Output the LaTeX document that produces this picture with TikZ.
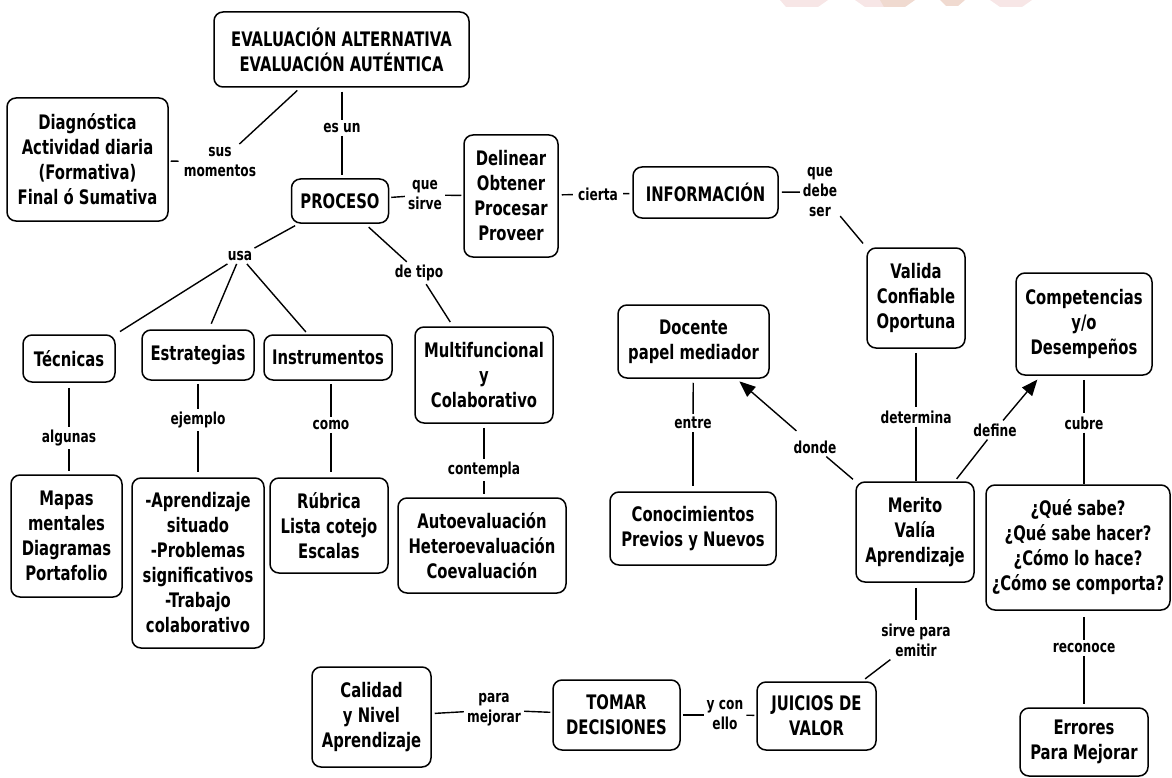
\documentclass[tikz,border=0pt]{standalone}
\usepackage{fontspec}
\setmainfont{DejaVu Sans}[FakeStretch=0.74]
\usetikzlibrary{arrows.meta}
\begin{document}
\begin{tikzpicture}[x=1pt,y=-1pt,
  box/.style={draw, line width=1.5pt, rounded corners=9pt, align=center,
    font=\bfseries\fontsize{20}{25}\selectfont, inner sep=0pt},
  lbl/.style={align=center, font=\bfseries\fontsize{16.5}{20}\selectfont, inner sep=3pt},
  con/.style={line width=1.4pt},
  arr/.style={con, -{Triangle[length=16pt,width=13pt]}},
  wm/.style={fill={rgb,255:red,247;green,230;blue,230}, draw=none},
  wm2/.style={fill={rgb,255:red,240;green,218;blue,208}, draw=none}
]
\useasboundingbox (0,0) rectangle (1172,778);
% faint watermark at the top edge
\fill[wm] (780,0) -- (828,0) -- (818,7) -- (786,7) -- cycle;
\fill[wm] (855,0) -- (885,0) -- (900,7) -- (865,7) -- cycle;
\fill[wm2] (880,0) -- (915,0) -- (905,7) -- (884,7) -- cycle;
\fill[wm2] (940,0) -- (965,0) -- (958,6) -- (946,6) -- cycle;
\fill[wm] (990,0) -- (1032,0) -- (1022,7) -- (1000,7) -- cycle;

% boxes
\node[box, minimum width=255pt, minimum height=75pt] (eval) at (341.5,49.5) {EVALUACIÓN ALTERNATIVA\\EVALUACIÓN AUTÉNTICA};
\node[box, minimum width=161pt, minimum height=123pt] (diag) at (87.5,159.5) {Diagnóstica\\Actividad diaria\\(Formativa)\\Final ó Sumativa};
\node[box, minimum width=97pt, minimum height=44pt] (proceso) at (340,201) {PROCESO};
\node[box, minimum width=94pt, minimum height=122pt] (delinear) at (511,196) {Delinear\\Obtener\\Procesar\\Proveer};
\node[box, minimum width=145pt, minimum height=51pt] (info) at (705.5,192.5) {INFORMACIÓN};
\node[box, minimum width=98pt, minimum height=100pt] (valida) at (916,298) {Valida\\Confiable\\Oportuna};
\node[box, minimum width=136pt, minimum height=102pt] (compet) at (1084,324) {Competencias\\y/o\\Desempeños};
\node[box, minimum width=151pt, minimum height=73pt] (docente) at (693.5,341.5) {Docente\\papel mediador};
\node[box, minimum width=92pt, minimum height=47pt] (tecnicas) at (69,358.5) {Técnicas};
\node[box, minimum width=112pt, minimum height=50pt] (estrat) at (198,355) {Estrategias};
\node[box, minimum width=128pt, minimum height=45pt] (instr) at (328,357.5) {Instrumentos};
\node[box, minimum width=138pt, minimum height=96pt] (multi) at (484,375) {Multifuncional\\y\\Colaborativo};
\node[box, minimum width=111pt, minimum height=122pt] (mapas) at (66.5,536) {Mapas\\mentales\\Diagramas\\Portafolio};
\node[box, minimum width=132pt, minimum height=170pt] (aprend) at (198,563) {-Aprendizaje\\situado\\-Problemas\\significativos\\-Trabajo\\colaborativo};
\node[box, minimum width=118pt, minimum height=95pt] (rubrica) at (329,525.5) {Rúbrica\\Lista cotejo\\Escalas};
\node[box, minimum width=168pt, minimum height=95pt] (auto) at (482,545.5) {Autoevaluación\\Heteroevaluación\\Coevaluación};
\node[box, minimum width=166pt, minimum height=73pt] (conoc) at (693,528.5) {Conocimientos\\Previos y Nuevos};
\node[box, minimum width=118pt, minimum height=100pt] (merito) at (915,532) {Merito\\Valía\\Aprendizaje};
\node[box, minimum width=184pt, minimum height=125pt] (que) at (1078,547.5) {¿Qué sabe?\\¿Qué sabe hacer?\\¿Cómo lo hace?\\¿Cómo se comporta?};
\node[box, minimum width=119pt, minimum height=100pt] (calidad) at (371.5,717) {Calidad\\y Nivel\\Aprendizaje};
\node[box, minimum width=127pt, minimum height=70pt] (tomar) at (616.5,715) {TOMAR\\DECISIONES};
\node[box, minimum width=119pt, minimum height=68pt] (juicios) at (816.5,716) {JUICIOS DE\\VALOR};
\node[box, minimum width=128pt, minimum height=68pt] (errores) at (1084,742) {Errores\\Para Mejorar};

% linking words
\node[lbl] (sus) at (220,162) {sus\\momentos};
\node[lbl] (esun) at (342,128) {es un};
\node[lbl] (quesirve) at (425,195) {que\\sirve};
\node[lbl] (cierta) at (598,194) {cierta};
\node[lbl] (quedebe) at (820,192) {que\\debe\\ser};
\node[lbl] (usa) at (240,256) {usa};
\node[lbl] (detipo) at (419,273) {de tipo};
\node[lbl] (algunas) at (69,438) {algunas};
\node[lbl] (ejemplo) at (198,420) {ejemplo};
\node[lbl] (como) at (331,425) {como};
\node[lbl] (contempla) at (484,470) {contempla};
\node[lbl] (entre) at (693,423) {entre};
\node[lbl] (donde) at (815,447) {donde};
\node[lbl] (determina) at (916,417) {determina};
\node[lbl] (define) at (995,430) {define};
\node[lbl] (cubre) at (1084,423) {cubre};
\node[lbl] (sirve) at (916,640) {sirve para\\emitir};
\node[lbl] (yconello) at (725,715) {y con\\ello};
\node[lbl] (paramejorar) at (494,710) {para\\mejorar};
\node[lbl] (reconoce) at (1084,648) {reconoce};

% connectors
\draw[con, shorten <=2pt, shorten >=2pt] (diag) -- (sus);
\draw[con, shorten >=4pt] (sus) -- (eval);
\draw[con, shorten <=4pt] (eval.south -| esun) -- (esun);
\draw[con, shorten >=3pt] (esun) -- (esun |- proceso.north);
\draw[con, shorten <=2pt] (proceso) -- (quesirve);
\draw[con, shorten >=2pt] (quesirve) -- (delinear);
\draw[con, shorten <=3pt, shorten >=2pt] (delinear) -- (cierta);
\draw[con, shorten <=2pt, shorten >=3pt] (cierta) -- (info);
\draw[con, shorten <=3pt] (info) -- (quedebe);
\draw[con, shorten >=5pt] (quedebe) -- (valida.north west);
\draw[con, shorten <=4pt] (proceso) -- (usa);
\draw[con, shorten >=5pt] (usa) -- (tecnicas.north east);
\draw[con, shorten >=6pt] (usa) -- (estrat);
\draw[con, shorten >=3pt] (usa) -- (instr);
\draw[con, shorten <=5pt] (proceso) -- (detipo);
\draw[con, shorten >=5pt] (detipo) -- (multi);
\draw[con, shorten <=5pt] (tecnicas) -- (algunas);
\draw[con, shorten >=3pt] (algunas) -- (algunas |- mapas.north);
\draw[con, shorten <=3pt] (estrat) -- (ejemplo);
\draw[con, shorten >=5pt] (ejemplo) -- (aprend);
\draw[con, shorten <=3pt] (instr.south -| como) -- (como);
\draw[con, shorten >=5pt] (como) -- (como |- rubrica.north);
\draw[con, shorten <=4pt] (multi.south -| contempla) -- (contempla);
\draw[con, shorten >=3pt] (contempla) -- (contempla |- auto.north);
\draw[con, shorten <=4pt] (docente) -- (entre);
\draw[con, shorten >=5pt] (entre) -- (conoc);
\draw[con, shorten <=4pt] (valida) -- (determina);
\draw[con] (determina) -- (determina |- merito.north);
\draw[con, shorten <=3pt] (merito) -- (donde);
\draw[arr, shorten <=10pt, shorten >=4pt] (donde) -- (docente);
\draw[con, shorten <=3pt] (merito) -- (define);
\draw[arr, shorten >=5pt] (define) -- (compet);
\draw[con, shorten <=4pt] (compet) -- (cubre);
\draw[con] (cubre) -- (cubre |- que.north);
\draw[con, shorten <=6pt] (que.south -| reconoce) -- (reconoce);
\draw[con, shorten >=3pt] (reconoce) -- (reconoce |- errores.north);
\draw[con, shorten <=5pt] (merito.south -| sirve) -- (sirve);
\draw[con, shorten >=4pt] (sirve) -- (juicios);
\draw[con, shorten <=2pt] (tomar) -- (yconello);
\draw[con, shorten >=2pt] (yconello) -- (juicios);
\draw[con, shorten <=3pt] (calidad) -- (paramejorar);
\draw[con, shorten >=2pt] (paramejorar) -- (tomar);
\end{tikzpicture}
\end{document}
